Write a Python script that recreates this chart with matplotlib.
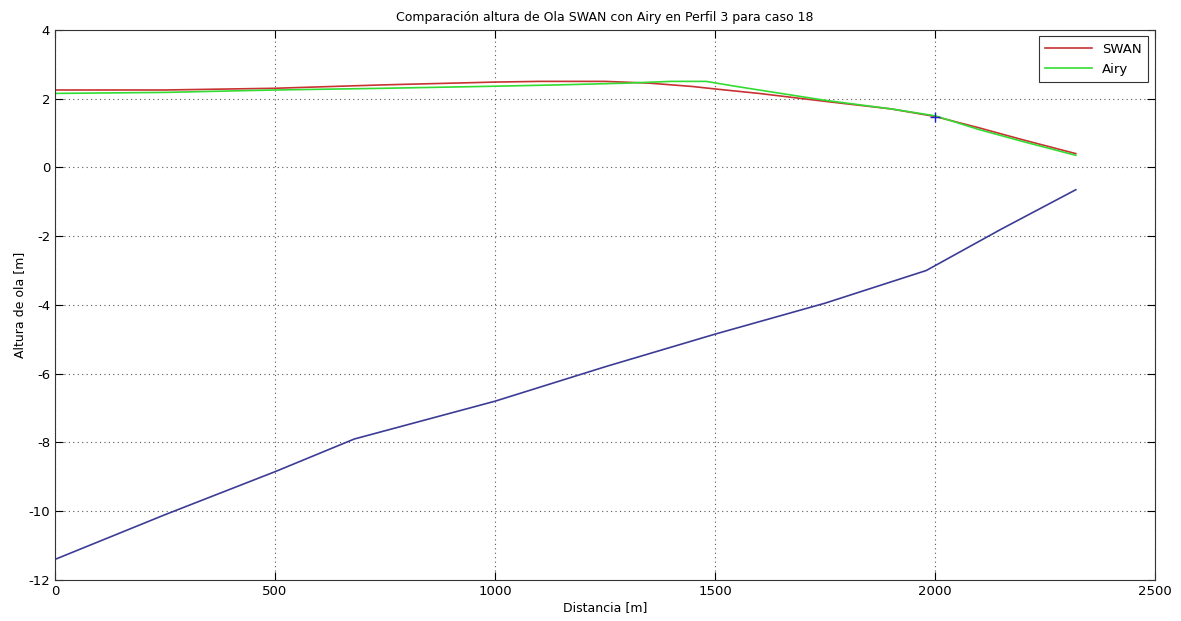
import numpy as np
import matplotlib.pyplot as plt

plt.rcParams['axes.unicode_minus'] = False

# distance along profile [m]
dist_swan = [0, 250, 500, 750, 1000, 1100, 1250, 1350, 1450, 1500, 1600, 1750, 1900, 2000, 2100, 2200, 2320]
h_swan = [2.25, 2.25, 2.3, 2.4, 2.48, 2.5, 2.5, 2.45, 2.35, 2.28, 2.15, 1.92, 1.7, 1.48, 1.15, 0.8, 0.4]

dist_airy = [0, 250, 500, 750, 1000, 1150, 1300, 1400, 1480, 1550, 1650, 1750, 1900, 2000, 2100, 2200, 2320]
h_airy = [2.15, 2.18, 2.25, 2.3, 2.36, 2.4, 2.45, 2.5, 2.5, 2.35, 2.15, 1.95, 1.7, 1.5, 1.1, 0.75, 0.35]

dist_fondo = [0, 250, 500, 680, 1000, 1250, 1500, 1750, 1980, 2150, 2320]
fondo = [-11.4, -10.1, -8.85, -7.9, -6.8, -5.8, -4.85, -3.95, -3.0, -1.8, -0.65]

rotura_x = [2000]
rotura_y = [1.45]

fig = plt.figure(figsize=(11.81, 6.21), dpi=100)
ax = fig.add_axes([0.0466, 0.066, 0.9314, 0.886])

ax.plot(dist_swan, h_swan, color='#c83232', lw=1.2, label='SWAN')
ax.plot(dist_airy, h_airy, color='#32dc32', lw=1.2, label='Airy')
ax.plot(dist_fondo, fondo, color='#3c3c96', lw=1.2)
ax.plot(rotura_x, rotura_y, '+', color='#2020c0', ms=7, mew=1)

ax.set_xlim(0, 2500)
ax.set_ylim(-12, 4)
ax.set_xticks(np.arange(0, 2501, 500))
ax.set_yticks(np.arange(-12, 5, 2))
ax.grid(True, linestyle=(0, (1, 3)), color='#555555', lw=0.8)
ax.tick_params(direction='in', labelsize=9.5, length=6, top=True, right=True, labeltop=False, labelright=False)
for s in ax.spines.values():
    s.set_color('#333333')

ax.set_title('Comparación altura de Ola SWAN con Airy en Perfil 3 para caso 18', fontsize=9, pad=6)
ax.set_xlabel('Distancia [m]', fontsize=9, labelpad=2)
ax.set_ylabel('Altura de ola [m]', fontsize=9, labelpad=2)

leg = ax.legend(loc='upper right', fontsize=9.5, fancybox=False, edgecolor='#333333', framealpha=1, handlelength=3.5, borderpad=0.5)
leg.get_frame().set_linewidth(0.8)

fig.savefig('out.png', dpi=100)
